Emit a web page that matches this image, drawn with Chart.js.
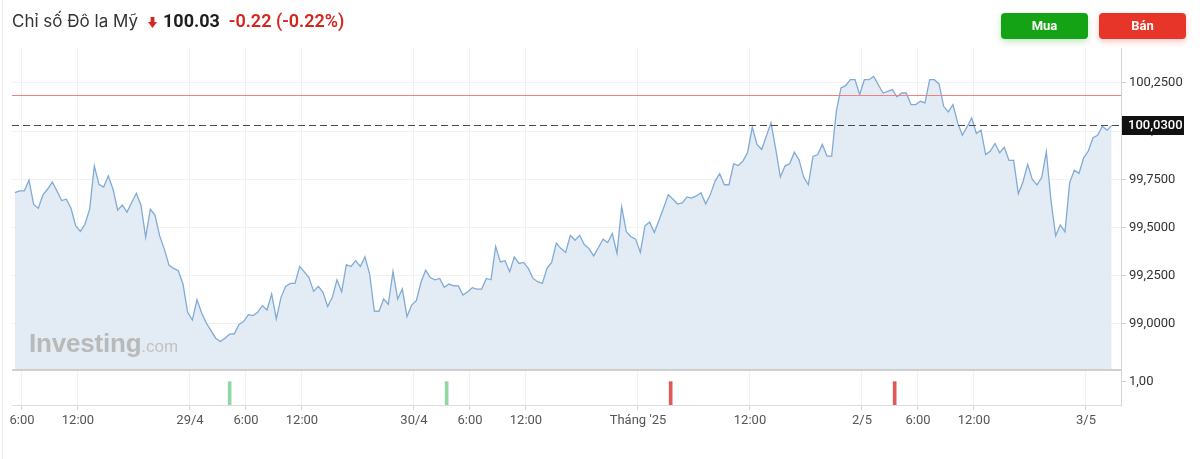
<!DOCTYPE html>
<html>
<head>
<meta charset="utf-8">
<script src="https://cdn.jsdelivr.net/npm/chart.js@4.4.1/dist/chart.umd.min.js"></script>
<style>
html,body{margin:0;padding:0;background:#fff;width:1200px;height:459px;overflow:hidden;font-family:Roboto,"Noto Sans",Arial,sans-serif;}
#wrap{position:relative;width:1200px;height:459px;}
#c{position:absolute;left:0;top:0;}
.edge{position:absolute;left:2px;top:0;width:1px;height:459px;background:#ececec;}
.title{position:absolute;left:12px;top:9px;white-space:nowrap;line-height:24px;font-family:Inter,Roboto,sans-serif;font-size:17px;color:#333;}
.title .arrow{display:inline-block;margin-left:10px;vertical-align:-1px;}
.title .price{margin-left:6px;font-family:Roboto,sans-serif;font-weight:700;font-size:18px;color:#1e1e1e;}
.title .chg{margin-left:9px;font-family:Roboto,sans-serif;font-weight:600;font-size:18px;color:#d3261e;}
.btn{position:absolute;top:13px;width:87px;height:26px;border-radius:4px;color:#fff;font-weight:700;font-size:13px;line-height:26px;text-align:center;}
.buy{left:1001px;background:#13a314;box-shadow:0 3px 6px rgba(19,163,20,0.25);}
.sell{left:1099px;background:#e8352a;box-shadow:0 3px 6px rgba(232,53,42,0.25);}
.wm{position:absolute;left:29px;top:328px;white-space:nowrap;font-family:"Liberation Sans",Arial,sans-serif;pointer-events:none;}
.wm .a{font-weight:700;font-size:26px;color:#b9b9b9;letter-spacing:-0.2px;}
.wm .b{font-size:17px;color:#c2c2c2;}
</style>
</head>
<body>
<div id="wrap">
<canvas id="c" width="1200" height="459"></canvas>
<div class="edge"></div>
<div class="title">Chỉ số Đô la Mỹ<span class="arrow"><svg width="9" height="11" viewBox="0 0 9 11"><rect x="2.6" y="0" width="3.8" height="5.5" fill="#d3261e"/><polygon points="0,5 9,5 4.5,11" fill="#d3261e"/></svg></span><span class="price">100.03</span><span class="chg">-0.22 (-0.22%)</span></div>
<div class="btn buy">Mua</div>
<div class="btn sell">Bán</div>
<div class="wm"><span class="a">Investing</span><span class="b">.com</span></div>
</div>
<script>
// ---- data (DXY, 30-minute closes, local time GMT+7) ----
const startHour = 5.25;      // hours since 28/4 00:00
const stepHours = 0.5;
const values = [
  99.681, 99.690, 99.690, 99.746, 99.620, 99.600, 99.670, 99.700, 99.736, 99.690,
  99.640, 99.647, 99.600, 99.510, 99.480, 99.517, 99.595, 99.820, 99.724, 99.710,
  99.767, 99.700, 99.590, 99.617, 99.580, 99.630, 99.678, 99.616, 99.450, 99.595,
  99.565, 99.457, 99.388, 99.305, 99.288, 99.276, 99.207, 99.060, 99.020, 99.126,
  99.057, 99.005, 98.965, 98.926, 98.909, 98.926, 98.947, 98.949, 98.997, 99.012,
  99.048, 99.043, 99.060, 99.095, 99.072, 99.155, 99.026, 99.138, 99.195, 99.210,
  99.210, 99.298, 99.270, 99.241, 99.169, 99.195, 99.164, 99.090, 99.138, 99.229,
  99.167, 99.307, 99.298, 99.328, 99.298, 99.348, 99.259, 99.067, 99.066, 99.129,
  99.102, 99.272, 99.129, 99.181, 99.038, 99.098, 99.121, 99.216, 99.279, 99.241,
  99.229, 99.236, 99.190, 99.207, 99.198, 99.197, 99.150, 99.167, 99.188, 99.181,
  99.181, 99.236, 99.229, 99.402, 99.322, 99.328, 99.271, 99.348, 99.314, 99.319,
  99.288, 99.236, 99.219, 99.210, 99.288, 99.319, 99.419, 99.391, 99.371,
  99.460, 99.434, 99.460, 99.412, 99.391, 99.353, 99.395, 99.440, 99.422, 99.469,
  99.366, 99.607, 99.478, 99.452, 99.440, 99.371, 99.509, 99.529, 99.474, 99.538,
  99.603, 99.671, 99.647, 99.622, 99.628, 99.659, 99.653, 99.664, 99.681, 99.622,
  99.671, 99.740, 99.779, 99.722, 99.722, 99.831, 99.822, 99.845, 99.891, 100.021,
  99.931, 99.905, 99.974, 100.043, 99.909, 99.762, 99.819, 99.831, 99.891, 99.852,
  99.762, 99.722, 99.869, 99.879, 99.931, 99.871, 99.871,
  100.103, 100.224, 100.236, 100.267, 100.267, 100.190, 100.267, 100.267, 100.284, 100.241,
  100.198, 100.207, 100.216, 100.178, 100.198, 100.198, 100.138, 100.138, 100.155, 100.147,
  100.267, 100.267, 100.245, 100.129, 100.100, 100.138, 100.043, 99.979, 100.022, 100.069,
  99.988, 100.005, 99.879, 99.897, 99.936, 99.888, 99.917, 99.848, 99.848, 99.676,
  99.738, 99.828, 99.750, 99.721, 99.759, 99.893, 99.638, 99.457, 99.514, 99.478,
  99.733, 99.797, 99.781, 99.862, 99.897, 99.966, 99.979, 100.026, 100.005, 100.030
];
const tickHours  = [6, 12, 24, 30, 36, 48, 54, 60, 72, 84, 96, 102, 108, 120];
const tickLabels = ['6:00','12:00','29/4','6:00','12:00','30/4','6:00','12:00',"Tháng '25",'12:00','2/5','6:00','12:00','3/5'];
const yTicks = [99, 99.25, 99.5, 99.75, 100, 100.25];
const lastPrice = 100.03;
const refLevel = 100.19;
const markerHours = [28.25, 51.5, 75.5, 99.5];
const markerValues = [1, 1, 1, 1];
const markerSignals = ['up', 'up', 'down', 'down'];
const signalTicks = [1];

// ---- axis ranges ----
const xMin = 4.93, xMax = 123.75;
const yMin = 98.761, yMax = 100.4315;

Chart.defaults.font.family = 'Roboto, "Noto Sans", Arial, sans-serif';
Chart.defaults.font.size = 13;

const lineData = values.map((v, i) => ({ x: startHour + i * stepHours, y: v }));
const barData = markerHours.map((h, i) => ({ x: h, y: markerValues[i] }));
const barColors = markerSignals.map(s => s === 'up' ? '#93d6a6' : '#dc5b58');

const overlay = {
  id: 'overlay',
  afterDatasetsDraw(chart) {
    const { ctx, chartArea: a, scales } = chart;
    const y = scales.y;
    ctx.save();
    // reference level
    const ry = Math.round(y.getPixelForValue(refLevel));
    ctx.fillStyle = '#f47f7f';
    ctx.fillRect(a.left, ry, a.right - a.left, 1);
    // last price dashed
    const ly = Math.round(y.getPixelForValue(lastPrice)) + 0.5;
    ctx.strokeStyle = '#4a4a4a';
    ctx.lineWidth = 1.2;
    ctx.setLineDash([7, 4]);
    ctx.beginPath(); ctx.moveTo(a.left, ly); ctx.lineTo(a.right, ly); ctx.stroke();
    ctx.setLineDash([]);
    // panel divider
    ctx.strokeStyle = '#cfcfcf';
    ctx.lineWidth = 2;
    ctx.beginPath(); ctx.moveTo(a.left, y.bottom); ctx.lineTo(a.right, y.bottom); ctx.stroke();
    ctx.restore();
  },
  afterDraw(chart) {
    const { ctx, scales } = chart;
    const y = scales.y;
    const ly = Math.round(y.getPixelForValue(lastPrice));
    ctx.save();
    ctx.fillStyle = '#111';
    ctx.fillRect(y.left + 1, ly - 9, 62, 19);
    ctx.fillStyle = '#fff';
    ctx.font = '500 13px Roboto, "Noto Sans", Arial, sans-serif';
    ctx.textBaseline = 'middle';
    ctx.textAlign = 'left';
    ctx.fillText(lastPrice.toFixed(4).replace('.', ','), y.left + 7, ly + 0.5);
    ctx.restore();
  }
};

new Chart(document.getElementById('c'), {
  data: {
    datasets: [
      {
        type: 'line',
        data: lineData,
        xAxisID: 'x', yAxisID: 'y',
        borderColor: '#80abd5',
        borderWidth: 1.3,
        backgroundColor: '#e3ecf5',
        fill: 'start',
        pointRadius: 0,
        tension: 0
      },
      {
        type: 'bar',
        data: barData,
        xAxisID: 'x', yAxisID: 'y2',
        backgroundColor: barColors,
        barThickness: 3
      }
    ]
  },
  options: {
    responsive: false,
    animation: false,
    events: [],
    layout: { padding: { left: 12, top: 48, right: 0, bottom: 0 } },
    plugins: { legend: { display: false }, tooltip: { enabled: false } },
    scales: {
      x: {
        type: 'linear', position: 'bottom', min: xMin, max: xMax, offset: false,
        afterBuildTicks: s => { s.ticks = tickHours.map(v => ({ value: v })); },
        afterFit: s => { s.height = 54; },
        ticks: {
          autoSkip: false, maxRotation: 0, color: '#555', padding: 3,
          font: { size: 13 },
          callback: v => tickLabels[tickHours.indexOf(v)]
        },
        grid: { offset: false, color: '#f0f1f3', tickColor: '#d6d6d6', tickLength: 5 },
        border: { color: '#dedede' }
      },
      y: {
        type: 'linear', position: 'right', stack: 'v', stackWeight: 322,
        min: yMin, max: yMax,
        afterBuildTicks: s => { s.ticks = yTicks.map(v => ({ value: v })); },
        afterFit: s => { s.width = 79; },
        ticks: { color: '#333', padding: 3, font: { size: 13 },
          callback: v => v.toFixed(4).replace('.', ',') },
        grid: { color: '#f1f1f1', tickColor: '#cfcfcf', tickLength: 5 },
        border: { color: '#d4d4d4' }
      },
      y2: {
        type: 'linear', position: 'right', stack: 'v', stackWeight: 35,
        min: 0, max: 1.5,
        afterBuildTicks: s => { s.ticks = signalTicks.map(v => ({ value: v })); },
        afterFit: s => { s.width = 79; },
        ticks: { color: '#333', padding: 3, font: { size: 13 },
          callback: v => v.toFixed(2).replace('.', ',') },
        grid: { drawOnChartArea: false, tickColor: '#cfcfcf', tickLength: 5 },
        border: { color: '#d4d4d4' }
      }
    }
  },
  plugins: [overlay]
});
</script>
</body>
</html>
